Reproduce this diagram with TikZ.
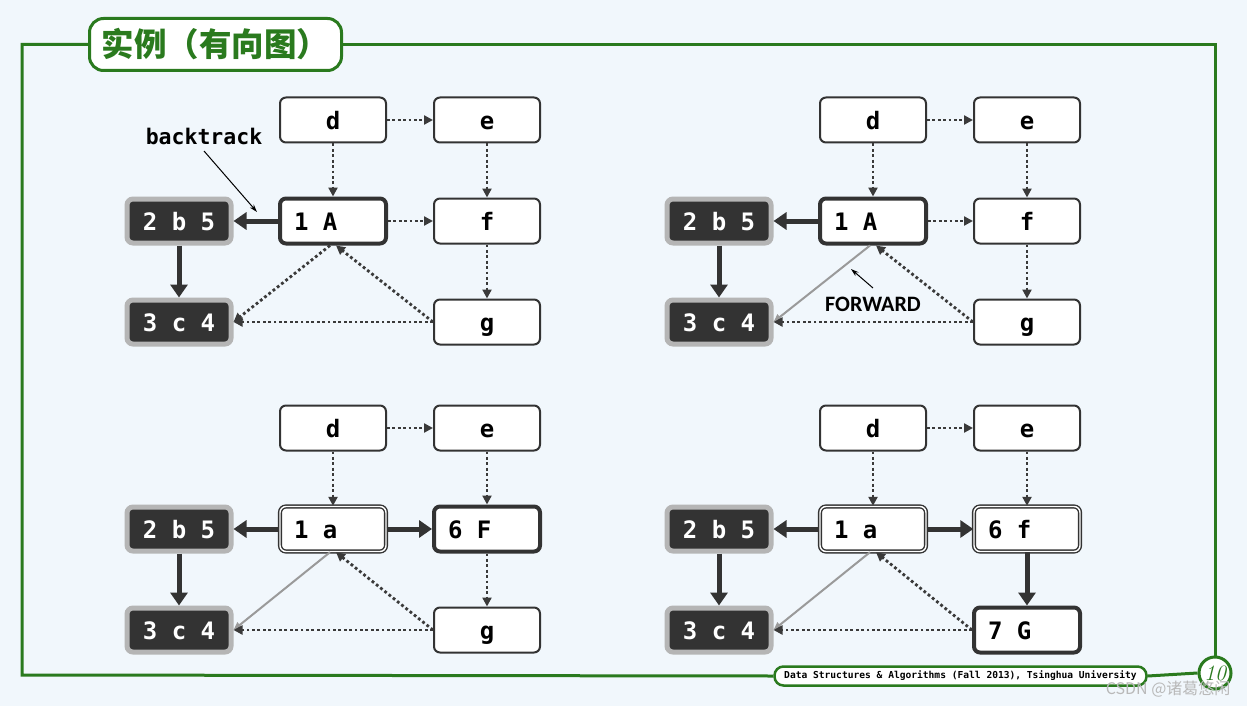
\documentclass[tikz,border=0pt]{standalone}
\usepackage{fontspec}
\usetikzlibrary{arrows.meta,calc}
\newfontfamily\monof{DejaVu Sans Mono}
\newfontfamily\cjkf{Noto Sans CJK SC}
\newfontfamily\carf{Carlito}
\definecolor{bg}{HTML}{F1F7FC}
\definecolor{grn}{HTML}{2A7A1E}
\definecolor{dk}{HTML}{333333}
\definecolor{edg}{HTML}{3A3A3A}
\definecolor{rim}{HTML}{B5B5B5}
\definecolor{fwdc}{HTML}{9A9A9A}
\newcommand{\ms}{\hspace{0.602em}}
\tikzset{
  wnode/.style={draw=dk, fill=white, line width=2pt, rounded corners=6pt,
    minimum width=106pt, minimum height=45pt, text width=78pt, align=center,
    inner sep=0pt, text height=18pt, text depth=0pt,
    font=\monof\bfseries\fontsize{24}{24}\selectfont, text=black},
  lft/.style={align=left},
  cur/.style={wnode, lft, line width=4pt},
  fin/.style={wnode, lft, line width=1.4pt, double=white, double distance=1.4pt},
  dnode/.style={draw=rim, fill=dk, line width=5pt, rounded corners=6pt,
    minimum width=104pt, minimum height=44pt, inner sep=0pt, text height=18pt, text depth=0pt,
    font=\monof\bfseries\fontsize{24}{24}\selectfont, text=white},
  dot/.style={draw=edg, line width=2.8pt, dash pattern=on 2.8pt off 2.6pt,
    -{Triangle[length=9pt,width=9pt]}},
  tree/.style={draw=dk, line width=5pt, -{Triangle[length=13pt,width=17pt]}},
  fwd/.style={draw=fwdc, line width=2pt, -{Triangle[length=8pt,width=7pt]}},
  note/.style={draw=black, line width=1pt, -{Stealth[length=8pt,width=5pt]}},
}
\begin{document}
\begin{tikzpicture}[x=1pt,y=-1pt]
\fill[bg] (0,0) rectangle (1247,706);
\useasboundingbox (0,0) rectangle (1247,706);

% frame, title, footer
\node[draw=grn, line width=3pt, fill=white, rounded corners=14pt, minimum width=252pt,
  minimum height=52pt, inner sep=0pt, text=grn, font=\cjkf\bfseries\fontsize{32.5}{33}\selectfont]
  (title) at (215.5,44.5) {实例（有向图）};
\node[draw=grn, line width=2.5pt, fill=white, rounded corners=9pt, minimum width=372pt,
  minimum height=19pt, inner sep=0pt, font=\monof\bfseries\fontsize{9.6}{10}\selectfont, text=black]
  (foot) at (960.5,676) {Data Structures \& Algorithms (Fall 2013), Tsinghua University};
\node[circle, draw=grn, line width=3pt, fill=white, minimum size=32pt, inner sep=0pt,
  text=grn, font=\itshape\fontsize{22}{22}\selectfont] (circ) at (1215,673) {10};
\draw[grn, line width=3pt] (title.west) -- (22,44.5) -- (22,675) -- (foot.west);
\draw[grn, line width=3pt] (foot.east) -- (circ.west);
\draw[grn, line width=3pt] (circ.north) -- (1215,44.5) -- (title.east);
\node[text=gray!55, font=\cjkf\fontsize{16}{16}\selectfont, anchor=east] (wm) at (1234,689) {CSDN @诸葛悠闲};

% ---------- top-left ----------
\begin{scope}[name prefix=p1-]
\node[wnode] (d) at (333,120) {d};
\node[wnode] (e) at (487,120) {e};
\node[cur] (A) at (333,221) {1\ms A};
\node[wnode] (f) at (487,221) {f};
\node[dnode] (b) at (179,221) {2 b 5};
\node[dnode] (c) at (179,322) {3 c 4};
\node[wnode] (g) at (487,322) {g};
\draw[dot] (d) -- (e);
\draw[dot] (d) -- (A);
\draw[dot] (e) -- (f);
\draw[dot] (A) -- (f);
\draw[dot] (f) -- (g);
\draw[tree] (A) -- (b);
\draw[tree] (b) -- (c);
\draw[dot] ($(A.south)+(-3,0)$) -- (c.east);
\draw[dot] (g.west) -- ($(A.south)+(3,0)$);
\draw[dot] (g.west) -- (c.east);
\node[font=\monof\bfseries\fontsize{21.5}{22}\selectfont] (bt) at (204,136) {backtrack};
\coordinate (bts) at (204,151);
\coordinate (bte) at (257,212);
\draw[note] (bts) -- (bte);
\end{scope}

% ---------- top-right ----------
\begin{scope}[shift={(540,0)}, name prefix=p2-]
\node[wnode] (d) at (333,120) {d};
\node[wnode] (e) at (487,120) {e};
\node[cur] (A) at (333,221) {1\ms A};
\node[wnode] (f) at (487,221) {f};
\node[dnode] (b) at (179,221) {2 b 5};
\node[dnode] (c) at (179,322) {3 c 4};
\node[wnode] (g) at (487,322) {g};
\draw[dot] (d) -- (e);
\draw[dot] (d) -- (A);
\draw[dot] (e) -- (f);
\draw[dot] (A) -- (f);
\draw[dot] (f) -- (g);
\draw[tree] (A) -- (b);
\draw[tree] (b) -- (c);
\draw[fwd] ($(A.south)+(-3,0)$) -- (c.east);
\draw[dot] (g.west) -- ($(A.south)+(3,0)$);
\draw[dot] (g.west) -- (c.east);
\node[font=\carf\bfseries\fontsize{22}{22}\selectfont] (fw) at (333,304) {FORWARD};
\coordinate (fws) at (333,288);
\coordinate (fwe) at (311,269);
\draw[note] (fws) -- (fwe);
\end{scope}

% ---------- bottom-left ----------
\begin{scope}[shift={(0,308)}, name prefix=p3-]
\node[wnode] (d) at (333,120) {d};
\node[wnode] (e) at (487,120) {e};
\node[fin] (A) at (333,221) {1\ms a};
\node[cur] (f) at (487,221) {6\ms F};
\node[dnode] (b) at (179,221) {2 b 5};
\node[dnode] (c) at (179,322) {3 c 4};
\node[wnode] (g) at (487,322) {g};
\draw[dot] (d) -- (e);
\draw[dot] (d) -- (A);
\draw[dot] (e) -- (f);
\draw[tree] (A) -- (f);
\draw[dot] (f) -- (g);
\draw[tree] (A) -- (b);
\draw[tree] (b) -- (c);
\draw[fwd] ($(A.south)+(-3,0)$) -- (c.east);
\draw[dot] (g.west) -- ($(A.south)+(3,0)$);
\draw[dot] (g.west) -- (c.east);
\end{scope}

% ---------- bottom-right ----------
\begin{scope}[shift={(540,308)}, name prefix=p4-]
\node[wnode] (d) at (333,120) {d};
\node[wnode] (e) at (487,120) {e};
\node[fin] (A) at (333,221) {1\ms a};
\node[fin] (f) at (487,221) {6\ms f};
\node[dnode] (b) at (179,221) {2 b 5};
\node[dnode] (c) at (179,322) {3 c 4};
\node[cur] (g) at (487,322) {7\ms G};
\draw[dot] (d) -- (e);
\draw[dot] (d) -- (A);
\draw[dot] (e) -- (f);
\draw[tree] (A) -- (f);
\draw[tree] (f) -- (g);
\draw[tree] (A) -- (b);
\draw[tree] (b) -- (c);
\draw[fwd] ($(A.south)+(-3,0)$) -- (c.east);
\draw[dot] (g.west) -- ($(A.south)+(3,0)$);
\draw[dot] (g.west) -- (c.east);
\end{scope}
\end{tikzpicture}
\end{document}
